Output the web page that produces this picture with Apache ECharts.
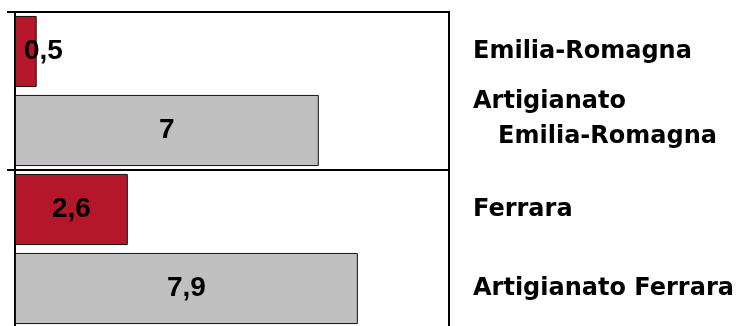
<!DOCTYPE html>
<html lang="it">
<head>
    <meta charset="UTF-8">
    <title>Artigianato</title>
    <script src="https://cdn.jsdelivr.net/npm/echarts@6/dist/echarts.min.js"></script>
    <style>
      html, body { margin: 0; padding: 0; background: #fff; }
      #chart { width: 740px; height: 326px; }
    </style>
</head>
<body>
  <div id="chart"></div>

<script type="text/javascript">

  // categorie (dall'alto in basso) e valori
  var categories = ['Emilia-Romagna', 'Artigianato\n   Emilia-Romagna', 'Ferrara', 'Artigianato Ferrara'];
  var values = [0.5, 7, 2.6, 7.9];
  // gruppi territoriali (uno ogni due barre) per le linee di separazione
  var groups = ['Emilia-Romagna', 'Ferrara'];

  var RED = '#b5172a';
  var GRAY = '#c0c0c0';

  var myChart = echarts.init(document.getElementById('chart'));

  // etichette piccole spostate a sinistra come nell'originale
  var seriesData = values.map(function (v) {
    if (v < 1) {
      return { value: v, label: { position: 'insideLeft', distance: 9 } };
    }
    return v;
  });

  var option = {
    animation: false,
    grid: {
      left: 15, top: 12, width: 434, height: 316,
      outerBoundsMode: 'none',
      show: true, borderColor: '#000', borderWidth: 2, backgroundColor: 'transparent'
    },
    xAxis: { type: 'value', min: 0, max: 10, show: false },
    yAxis: [
      {
        type: 'category',
        data: categories,
        inverse: true,
        position: 'right',
        axisLine: { show: false },
        axisTick: { show: false },
        splitLine: { show: false },
        axisLabel: {
          margin: 24,
          color: '#000',
          fontFamily: 'DejaVu Sans',
          fontWeight: 'bold',
          fontSize: 24,
          lineHeight: 35,
          align: 'left',
          formatter: function (v) {
            // la label su due righe sta un po' piu' in alto
            return v.indexOf('\n') >= 0 ? v + '\n{g| }' : v;
          },
          rich: { g: { fontSize: 4, lineHeight: 23 } }
        }
      },
      {
        type: 'category',
        data: groups,
        inverse: true,
        position: 'left',
        axisLine: { show: true, lineStyle: { color: '#000', width: 2 } },
        axisTick: { show: true, length: 8, lineStyle: { color: '#000', width: 2 } },
        axisLabel: { show: false },
        splitLine: { show: true, lineStyle: { color: '#000', width: 2 } }
      }
    ],
    series: [{
      type: 'bar',
      yAxisIndex: 0,
      data: seriesData,
      barCategoryGap: '10%',
      itemStyle: {
        color: function (p) { return p.dataIndex % 2 === 0 ? RED : GRAY; },
        borderColor: '#111',
        borderWidth: 1
      },
      label: {
        show: true,
        position: 'inside',
        color: '#000',
        fontFamily: 'Liberation Sans',
        fontWeight: 'bold',
        fontSize: 28,
        formatter: function (p) { return String(p.value).replace('.', ','); }
      }
    }]
  };

  myChart.setOption(option);
</script>
</body>
</html>
